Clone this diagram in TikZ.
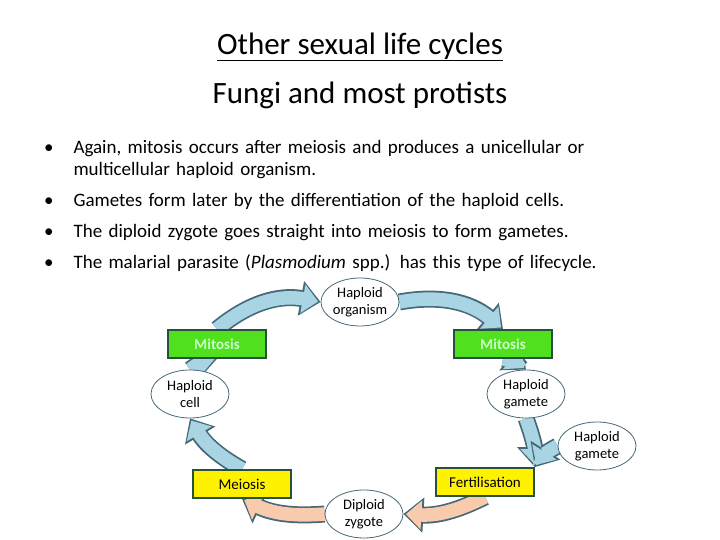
\documentclass[tikz,border=0pt]{standalone}
\usepackage{fontspec}
\setmainfont{Carlito}
\usetikzlibrary{
  shapes.geometric,
  arrows.meta,
  positioning,  % relative placement
  backgrounds,  % arrows behind the nodes
}
\definecolor{ringblue}{RGB}{168,212,228}
\definecolor{ringedge}{RGB}{70,105,120}
\definecolor{ringpeach}{RGB}{248,203,173}
\definecolor{stepgreen}{RGB}{80,224,30}
\definecolor{stepedge}{RGB}{40,80,60}
\tikzset{
  x=1pt, y=1pt,
  stage/.style={
    draw=ringedge,
    thick,
    fill=white,
    ellipse,
    inner sep=0pt,
    minimum width=78pt,
    minimum height=48pt,
    align=center,
    font=\fontsize{14.5}{17}\selectfont
  },
  phase box/.style={
    draw=stepedge,
    line width=1.8pt,
    rectangle,
    minimum width=98pt,
    minimum height=28pt,
    font=\fontsize{15}{17}\selectfont
  },
  mitosis/.style={phase box, fill=stepgreen, text=white!80!green},
  meiosis/.style={phase box, fill=yellow},
  flow out/.style={
    line width=17pt,
    draw=ringedge,
    -{Triangle[length=20pt,width=34pt]}
  },
  flow in/.style={
    line width=13.5pt,
    draw=#1,
    shorten >=2.5pt,
    -{Triangle[length=15.5pt,width=28pt]}
  },
  bullet/.style={
    anchor=north west,
    text width=680pt,
    align=left,
    font=\fontsize{19}{22}\selectfont
  }
}
\newcommand{\flowarrow}[4][ringblue]{%
  \draw[flow out] (#2) to[#4] (#3);
  \draw[flow in=#1] (#2) to[#4] (#3);
}
\begin{document}
\begin{tikzpicture}
\useasboundingbox (0,0) rectangle (720,540);
% Title
\node[font=\fontsize{31}{34}\selectfont] (title1) at (360,493) {\underline{Other sexual life cycles}};
\node[font=\fontsize{31}{34}\selectfont] (title2) at (360,445) {Fungi and most protists};
% Bullets
\node[bullet] (list) at (0,412) {%
  \begin{list}{\textbullet}{\setlength{\leftmargin}{70pt}\setlength{\labelwidth}{40pt}%
    \setlength{\labelsep}{20pt}\setlength{\itemsep}{9pt}\setlength{\parsep}{0pt}%
    \setlength{\topsep}{0pt}\setlength{\rightmargin}{40pt}}
  \item Again, mitosis occurs after meiosis and produces a unicellular or multicellular haploid organism.
  \item Gametes form later by the differentiation of the haploid cells.
  \item The diploid zygote goes straight into meiosis to form gametes.
  \item The malarial parasite (\textit{Plasmodium} spp.) has this type of lifecycle.
  \end{list}};
% Stages
\node[stage] (org)  at (360,238) {Haploid\\organism};
\node[stage] (cell) at (190,146) {Haploid\\cell};
\node[stage] (gam)  at (526,146) {Haploid\\gamete};
\node[stage] (gam2) at (597,94)  {Haploid\\gamete};
\node[stage] (zyg)  at (364,26)  {Diploid\\zygote};
% Steps
\node[mitosis] (mitL) at (217,196) {\textbf{Mitosis}};
\node[mitosis] (mitR) at (503,196) {\textbf{Mitosis}};
\node[meiosis] (mei)  at (242,56)  {Meiosis};
\node[meiosis] (fert) at (485,58)  {Fertilisation};
% Ring of arrows
\begin{scope}[on background layer]
\flowarrow{cell.north}{mitL.south}{bend left=15}
\flowarrow{mitL.north}{org.west}{bend left=25}
\flowarrow{org.east}{mitR.north}{bend left=25}
\flowarrow{mitR.south}{gam.north}{bend left=15}
\flowarrow{gam.south}{fert.north east}{bend left=10}
\flowarrow{gam2.west}{fert.north east}{bend right=15}
\flowarrow[ringpeach]{fert.south}{zyg.east}{bend left=15}
\flowarrow[ringpeach]{zyg.west}{mei.south}{bend left=15}
\flowarrow{mei.north}{cell.south}{bend left=15}
\end{scope}
\end{tikzpicture}
\end{document}
